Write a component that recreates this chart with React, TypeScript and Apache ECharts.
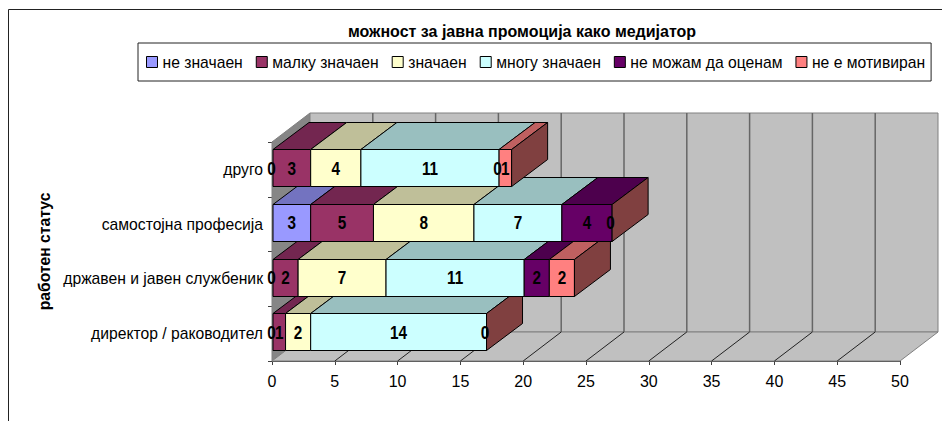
import React, { useEffect, useRef } from "react";
import * as echarts from "echarts";

const categories = ["директор / раководител", "државен и јавен службеник", "самостојна професија", "друго"];
const seriesNames = ["не значаен", "малку значаен", "значаен", "многу значаен", "не можам да оценам", "не е мотивиран"];
const neZnachaen = [0, 0, 3, 0];
const malkuZnachaen = [1, 2, 5, 3];
const znachaen = [2, 7, 8, 4];
const mnoguZnachaen = [14, 11, 7, 11];
const neMozham = [null, 2, 4, 0];
const neMotiviran = [0, 2, 0, 1];
const seriesValues: (number | null)[][] = [neZnachaen, malkuZnachaen, znachaen, mnoguZnachaen, neMozham, neMotiviran];
const frontColors = ["#9999FF", "#993366", "#FFFFCC", "#CCFFFF", "#660066", "#FF8080"];
const topColors = ["#7373C0", "#732650", "#BFBF99", "#99BFBF", "#4D004D", "#BF6060"];
const sideColor = "#804040";
const LABEL_FONT = "Liberation Sans";

// Depth of the 3D box and of a bar, in pixels
const WALL_DX = 38;
const WALL_DY = 29;
const BAR_DX = 36;
const BAR_DY = 27;
const BAR_RATIO = 0.676;

function poly(points: number[][], fill: string, stroke: string | null, z2: number, lineWidth = 1) {
  return {
    type: "polygon",
    z2,
    shape: { points },
    style: { fill, stroke: stroke ?? "none", lineWidth },
  };
}

function line(p: number[], q: number[], stroke: string, z2: number, lineWidth = 1) {
  return {
    type: "line",
    z2,
    shape: { x1: p[0], y1: p[1], x2: q[0], y2: q[1] },
    style: { stroke, lineWidth },
  };
}

const renderWalls = (_: any, api: any) => {
  const a = api.coord([0, 0]);
  const bandH = api.size([0, 1])[1];
  const bottom = a[1] + bandH / 2;
  const top = bottom - bandH * categories.length;
  const left = a[0];
  const right = api.coord([50, 0])[0];
  const children: any[] = [
    poly([[left, bottom], [left, top], [left + WALL_DX, top - WALL_DY], [left + WALL_DX, bottom - WALL_DY]], "#868686", "#808080", 0),
    poly([[left + WALL_DX, top - WALL_DY], [right + WALL_DX, top - WALL_DY], [right + WALL_DX, bottom - WALL_DY], [left + WALL_DX, bottom - WALL_DY]], "#C0C0C0", "#808080", 0),
    poly([[left, bottom], [right, bottom], [right + WALL_DX, bottom - WALL_DY], [left + WALL_DX, bottom - WALL_DY]], "#C0C0C0", "#808080", 0),
  ];
  for (let v = 5; v <= 45; v += 5) {
    const x = api.coord([v, 0])[0];
    children.push(line([x + WALL_DX, top - WALL_DY], [x + WALL_DX, bottom - WALL_DY], "#666666", 1, 1.5));
    children.push(line([x, bottom], [x + WALL_DX, bottom - WALL_DY], "#222222", 1, 1));
  }
  return { type: "group", children };
};

const stackStart = (s: number, c: number) => {
  let sum = 0;
  for (let i = 0; i < s; i++) sum += seriesValues[i][c] ?? 0;
  return sum;
};

const renderSegment = (s: number) => (_: any, api: any) => {
  const c = api.value(2);
  const raw = seriesValues[s][c];
  if (raw === null) return { type: "group", children: [] };
  const start = api.value(0);
  const end = api.value(1);
  const bandH = api.size([0, 1])[1];
  const h = bandH * BAR_RATIO;
  const cy = api.coord([0, c])[1] - 1.2;
  const x0 = api.coord([start, c])[0] + 1;
  const x1 = api.coord([end, c])[0] + 1;
  const yT = Math.floor(cy - h / 2) + 0.5;
  const yB = yT + Math.round(h);
  const z = 10 + c * 10;
  const children: any[] = [];
  if (end > start) {
    children.push(poly([[x0, yT], [x1, yT], [x1 + BAR_DX, yT - BAR_DY], [x0 + BAR_DX, yT - BAR_DY]], topColors[s], "#000000", z));
    children.push(poly([[x0, yT], [x1, yT], [x1, yB], [x0, yB]], frontColors[s], "#000000", z + 1));
  }
  if (s === seriesValues.length - 1) {
    children.push(poly([[x1, yT], [x1 + BAR_DX, yT - BAR_DY], [x1 + BAR_DX, yB - BAR_DY], [x1, yB]], sideColor, "#000000", z + 2));
  }
  // Value labels are condensed horizontally to fit narrow segments
  children.push({
    type: "text",
    z2: 100,
    x: (x0 + x1) / 2 - (end > start ? 0 : 1.5),
    y: cy + 0.5,
    scaleX: 0.85,
    style: {
      x: 0,
      y: 0,
      text: String(raw),
      fill: "#000000",
      font: `bold 18px "${LABEL_FONT}"`,
      align: "center",
      verticalAlign: "middle",
    },
  });
  return { type: "group", children };
};

export default function App() {
  const ref = useRef<HTMLDivElement>(null);
  useEffect(() => {
    const chart = echarts.init(ref.current!, undefined, { renderer: "svg" });
    chart.setOption({
      animation: false,
      backgroundColor: "#ffffff",
      title: {
        text: "можност за јавна промоција како медијатор",
        left: 517,
        top: 18,
        textAlign: "center",
        textStyle: { fontFamily: LABEL_FONT, fontSize: 16, fontWeight: "bold", color: "#000" },
      },
      legend: {
        left: 138,
        top: 43,
        padding: [11, 6, 11, 8],
        borderColor: "#222",
        borderWidth: 1,
        itemWidth: 11,
        itemHeight: 11,
        itemGap: 13,
        icon: "rect",
        itemStyle: { borderColor: "#000", borderWidth: 1 },
        textStyle: { fontFamily: LABEL_FONT, fontSize: 15.7, color: "#000" },
        data: seriesNames,
      },
      grid: { left: 272, right: 42, top: 142, bottom: 60 },
      xAxis: {
        type: "value",
        min: 0,
        max: 50,
        interval: 5,
        axisLine: { show: true, lineStyle: { color: "#404040" } },
        axisTick: { show: true, length: 4, lineStyle: { color: "#404040" } },
        axisLabel: { fontFamily: LABEL_FONT, fontSize: 16, color: "#000", margin: 12 },
        splitLine: { show: false },
      },
      yAxis: {
        type: "category",
        data: categories,
        name: "работен статус",
        nameLocation: "middle",
        nameGap: 215,
        nameTextStyle: { fontFamily: LABEL_FONT, fontSize: 15.7, fontWeight: "bold", color: "#000" },
        axisLine: { show: true, lineStyle: { color: "#404040" } },
        axisTick: { show: true, length: 4, lineStyle: { color: "#404040" } },
        axisLabel: { fontFamily: LABEL_FONT, fontSize: 15.7, color: "#000", margin: 9, interval: 0 },
        splitLine: { show: false },
      },
      graphic: [
        {
          type: "polyline",
          silent: true,
          shape: { points: [[8.5, 421], [8.5, 9.5], [942, 9.5]] },
          style: { stroke: "#222222", fill: "none", lineWidth: 1 },
        },
      ],
      series: [
        {
          type: "custom",
          name: "walls",
          silent: true,
          z: 1,
          renderItem: renderWalls,
          data: [[0, 0]],
          encode: { x: 0, y: 1 },
          clip: false,
        },
        ...seriesNames.map((name, s) => ({
          type: "custom",
          name,
          z: 2,
          clip: false,
          itemStyle: { color: frontColors[s] },
          renderItem: renderSegment(s),
          encode: { x: [0, 1], y: 2 },
          data: categories.map((_, c) => [stackStart(s, c), stackStart(s, c) + (seriesValues[s][c] ?? 0), c]),
        })),
      ],
    });
    return () => chart.dispose();
  }, []);
  return <div ref={ref} style={{ position: "absolute", left: 0, top: 0, width: 942, height: 421 }} />;
}
